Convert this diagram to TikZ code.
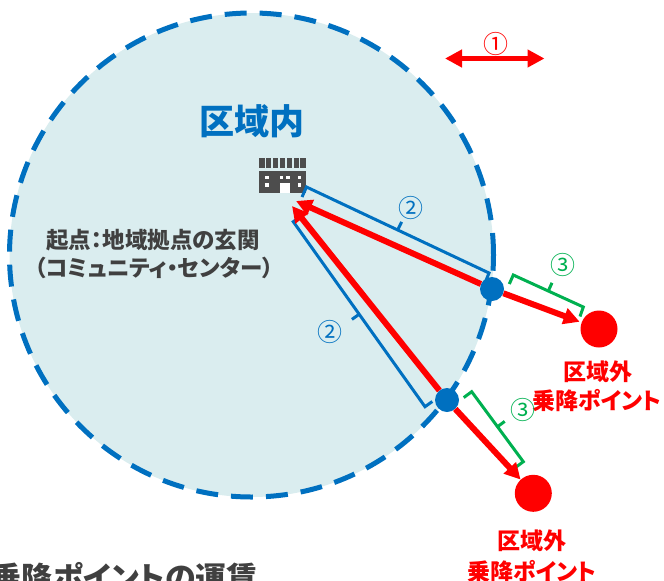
\documentclass[tikz,border=0pt]{standalone}
\usepackage{fontspec}
\setmainfont{Noto Sans CJK JP}[RawFeature=+palt]
\usepackage{tikz}
\usetikzlibrary{arrows.meta,positioning}
\definecolor{areablue}{HTML}{0070C0}
\definecolor{areafill}{HTML}{DAEDEF}
\definecolor{outred}{HTML}{FF0000}
\definecolor{walkgreen}{HTML}{00B050}
\definecolor{textgray}{HTML}{404040}
\definecolor{icongray}{HTML}{4D4D4D}

\begin{document}
\begin{tikzpicture}[x=1pt,y=-1pt,
    gate/.style={circle,fill=areablue,minimum size=24pt,inner sep=0pt},
    stop/.style={circle,fill=outred,minimum size=37pt,inner sep=0pt},
    route/.style={draw=outred,line width=6pt,-{Triangle[length=16pt,width=16pt]}},
    bluebrace/.style={draw=areablue,line width=3pt},
    greenbrace/.style={draw=walkgreen,line width=3pt},
    tag/.style={font=\fontsize{25}{25}\selectfont,inner sep=0pt,anchor=base}]
  \useasboundingbox (0,0) rectangle (664,581);
  % area
  \fill[areafill] (251.5,255) circle (242pt);
  \draw[areablue,line width=5pt,dash pattern=on 22pt off 13pt] (251.5,255) circle (242pt);
  % building icon
  \foreach \i in {0,...,6}
    \fill[icongray] (259.3+\i*6.86,158.3) rectangle ++(5.3,10);
  \fill[icongray] (259.3,170.7) rectangle (305.7,192.7);
  \foreach \x/\y in {265/175.5,279.5/175.5,286/175.5,297.5/175.5,265/183,297.5/183}
    \fill[white] (\x,\y) rectangle ++(3.7,3.7);
  \fill[white] (279.5,182.5) rectangle (290,192.7);
  \coordinate (homeA) at (296,201);
  \coordinate (homeB) at (292,206);
  % texts
  \node[tag,areablue,font=\bfseries\fontsize{35}{35}\selectfont] (area) at (251.5,134) {区域内};
  \node[tag,textgray,font=\bfseries\fontsize{22.5}{22.5}\selectfont] (origin1) at (153,248.5) {起点：地域拠点の玄関};
  \node[tag,textgray,font=\bfseries\fontsize{22.5}{22.5}\selectfont] (origin2) at (154,276.5) {（コミュニティ・センター）};
  \node[tag,outred,font=\bfseries\fontsize{23}{23}\selectfont] (outA1) at (598,380) {区域外};
  \node[tag,outred,font=\bfseries\fontsize{23}{23}\selectfont] (outA2) at (597,409) {乗降ポイント};
  \node[tag,outred,font=\bfseries\fontsize{23}{23}\selectfont] (outB1) at (532,549.5) {区域外};
  \node[tag,outred,font=\bfseries\fontsize{23}{23}\selectfont] (outB2) at (532,580.5) {乗降ポイント};
  \node[tag,textgray,font=\bfseries\fontsize{31}{31}\selectfont,anchor=base east] (fare) at (258,589) {乗降ポイントの運賃};
  % brackets
  \draw[bluebrace] (302,197) -- (306.5,187) -- (489,273) -- (485,283);
  \draw[bluebrace] (397.7,230) -- (401.6,221.9);
  \draw[bluebrace] (300.6,216.5) -- (293.3,221.7) -- (425,406.7) -- (432.3,401.5);
  \draw[bluebrace] (359.2,314.2) -- (351.9,319.4);
  \draw[greenbrace] (509.3,284) -- (513.3,275) -- (583.3,307) -- (580,316.5);
  \draw[greenbrace] (548.3,291) -- (552,282.8);
  \draw[greenbrace] (463.7,397.6) -- (471.7,391.7) -- (523.3,461.7) -- (515.3,467.6);
  \draw[greenbrace] (497.5,426.7) -- (504.7,421.4);
  \node[tag,areablue] (costA) at (411,217.5) {②};
  \node[tag,areablue] (costB) at (329.7,341) {②};
  \node[tag,walkgreen] (walkA) at (563.3,274.5) {③};
  \node[tag,walkgreen] (walkB) at (522.5,419.5) {③};
  % points
  \node[gate] (gateA) at (492,289) {};
  \node[gate] (gateB) at (447,400) {};
  \node[stop] (stopA) at (599,329) {};
  \node[stop] (stopB) at (533.3,493.3) {};
  % routes
  \draw[route] (gateA) -- (homeA);
  \draw[route] (gateB) -- (homeB);
  \draw[route,shorten >=2pt] (gateA) -- (stopA);
  \draw[route] (gateB) -- (stopB);
  % distance
  \coordinate (spanL) at (445,58.5);
  \coordinate (spanR) at (544.5,58.5);
  \draw[draw=outred,line width=5pt,{Triangle[length=17pt,width=17pt]}-{Triangle[length=17pt,width=17pt]}] (spanL) -- (spanR);
  \node[tag,outred] (span) at (495.8,53) {①};
\end{tikzpicture}
\end{document}
